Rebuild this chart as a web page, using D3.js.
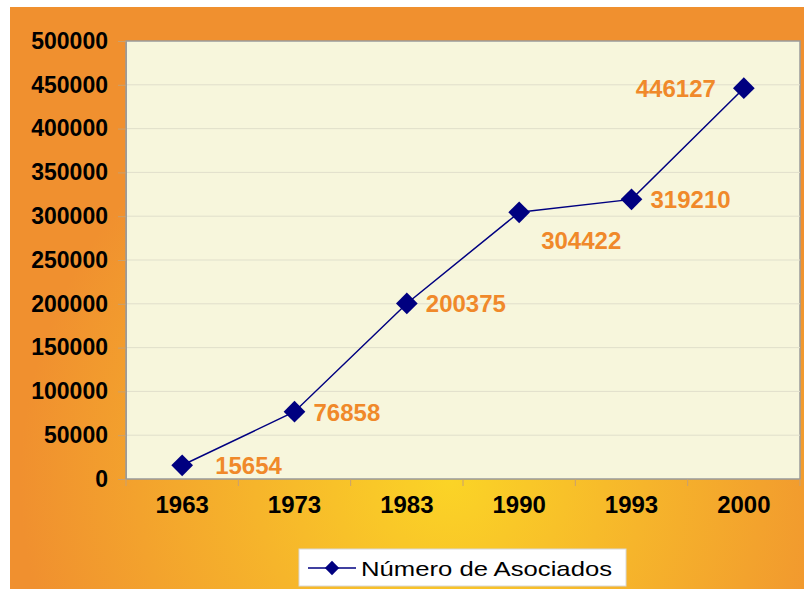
<!DOCTYPE html>
<html><head><meta charset="utf-8">
<script src="https://cdn.jsdelivr.net/npm/d3@7"></script>
<style>html,body{margin:0;padding:0;background:#fff;}svg{display:block;}</style>
</head><body>
<script>
const years = ["1963","1973","1983","1990","1993","2000"];
const members = [15654, 76858, 200375, 304422, 319210, 446127];
const yTicks = [0,50000,100000,150000,200000,250000,300000,350000,400000,450000,500000];
const seriesName = "Número de Asociados";
const labelSide = ["right","right","right","below","right","left"];

const W=804,H=589;
const FONT="Liberation Sans, Arial, sans-serif";
const svg=d3.select("body").append("svg").attr("width",W).attr("height",H);
const defs=svg.append("defs");
const rg=defs.append("radialGradient").attr("id","bg").attr("gradientUnits","userSpaceOnUse")
  .attr("cx",450).attr("cy",480).attr("r",430);
rg.append("stop").attr("offset","0").attr("stop-color","#fbd426");
rg.append("stop").attr("offset","0.45").attr("stop-color","#f6b52b");
rg.append("stop").attr("offset","1").attr("stop-color","#f0902f");
svg.append("rect").attr("x",10).attr("y",7).attr("width",W-10).attr("height",H-7).attr("fill","url(#bg)");

const L=126,T=41,R=800,B=479;
const x=d3.scaleBand().domain(years).range([L,R]);
const y=d3.scaleLinear().domain([0,500000]).range([B,T]);

svg.append("rect").attr("x",L).attr("y",T).attr("width",R-L).attr("height",B-T)
  .attr("fill","#f7f6dc").attr("stroke","#9a9a9a").attr("stroke-width",1.5);

svg.append("g").selectAll("line").data(yTicks.slice(1,-1)).join("line")
  .attr("x1",L).attr("x2",R).attr("y1",d=>y(d)).attr("y2",d=>y(d))
  .attr("stroke","#e0dfcb").attr("stroke-width",1);

const ya=svg.append("g").attr("transform",`translate(${L},0)`)
  .call(d3.axisLeft(y).tickValues(yTicks).tickSize(8).tickPadding(10).tickFormat(d3.format("d")));
ya.select(".domain").attr("stroke","#9a9a9a");
ya.selectAll(".tick line").attr("stroke","#c8a070");
ya.selectAll("text").attr("font-family",FONT).attr("font-weight","bold")
  .attr("font-size",23).attr("fill","#000");

const xa=svg.append("g").attr("transform",`translate(0,${B})`)
  .call(d3.axisBottom(x).tickSize(0).tickPadding(17));
xa.select(".domain").remove();
xa.selectAll("text").attr("font-family",FONT).attr("font-weight","bold")
  .attr("font-size",24).attr("fill","#000");
svg.append("g").selectAll("line").data(years.concat(["end"])).join("line")
  .attr("x1",(d,i)=>L+i*x.step()).attr("x2",(d,i)=>L+i*x.step())
  .attr("y1",B).attr("y2",B+7).attr("stroke","#c8a070");

const cx=d=>x(d)+x.bandwidth()/2;
const line=d3.line().x((d,i)=>cx(years[i])).y(d=>y(d));
svg.append("path").datum(members).attr("d",line).attr("fill","none").attr("stroke","#000080").attr("stroke-width",1.5);

const diamond=d3.symbol().type(d3.symbolDiamond2).size(300);
svg.append("g").selectAll("path").data(members).join("path")
  .attr("d",diamond).attr("transform",(d,i)=>`translate(${cx(years[i])},${y(d)})`).attr("fill","#000080");

svg.append("g").selectAll("text").data(members).join("text")
  .attr("x",(d,i)=>{const s=labelSide[i];const c=cx(years[i]);return s==="left"?c-28:(s==="below"?c+22:c+(i===0?33:19));})
  .attr("y",(d,i)=>{const s=labelSide[i];const c=y(d);return s==="below"?c+37:c+9;})
  .attr("text-anchor",(d,i)=>labelSide[i]==="left"?"end":"start")
  .attr("font-family",FONT).attr("font-weight","bold").attr("font-size",24)
  .attr("fill","#f0892a").text(d=>d);

const lg=svg.append("g");
lg.append("rect").attr("x",299).attr("y",549).attr("width",327).attr("height",37).attr("fill","#fff").attr("stroke","#d8d8d8");
lg.append("line").attr("x1",308).attr("x2",356).attr("y1",568).attr("y2",568).attr("stroke","#000080").attr("stroke-width",1.5);
lg.append("path").attr("d",d3.symbol().type(d3.symbolDiamond2).size(130)).attr("transform","translate(332,568)").attr("fill","#000080");
lg.append("text").attr("x",361).attr("y",576).attr("font-family",FONT)
  .attr("font-size",21).attr("textLength",251).attr("lengthAdjust","spacingAndGlyphs")
  .attr("fill","#000").text(seriesName);
</script>
</body></html>
